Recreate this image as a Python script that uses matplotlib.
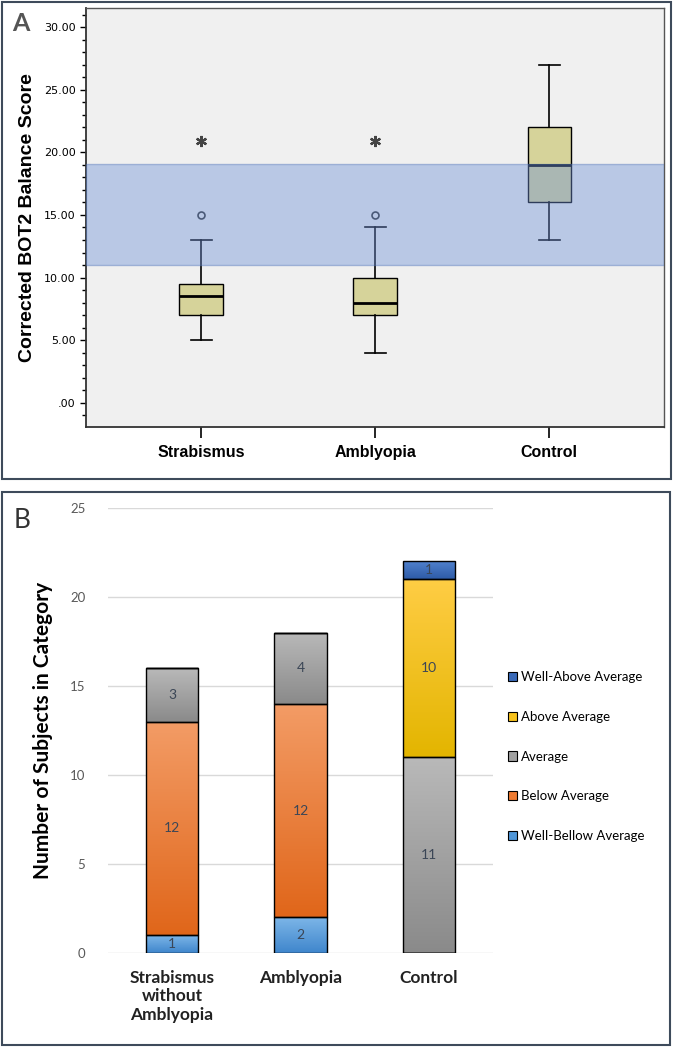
import numpy as np
import matplotlib
matplotlib.use("Agg")
import matplotlib.pyplot as plt
from matplotlib.patches import Rectangle
from matplotlib.colors import LinearSegmentedColormap

# ---- panel A data (box plot) ----
groups_a = ["Strabismus", "Amblyopia", "Control"]
q1 = [7.0, 7.0, 16.0]
median = [8.5, 8.0, 19.0]
q3 = [9.5, 10.0, 22.0]
whisk_lo = [5.0, 4.0, 13.0]
whisk_hi = [13.0, 14.0, 27.0]
outlier_grp = [1, 2]
outlier_val = [15.0, 15.0]
extreme_grp = [1, 2]
extreme_val = [20.9, 20.9]
band_lo, band_hi = 11.0, 19.1

# ---- panel B data (stacked bars) ----
groups_b = ["Strabismus\nwithout\nAmblyopia", "Amblyopia", "Control"]
categories = ["Well-Bellow Average", "Below Average", "Average", "Above Average", "Well-Above Average"]
well_below = [1, 2, 0]
below = [12, 12, 0]
average = [3, 4, 11]
above = [0, 0, 10]
well_above = [0, 0, 1]
series_b = [well_below, below, average, above, well_above]
grad_top = ["#7db6e8", "#f39c66", "#b9b9b9", "#ffcd45", "#5080cc"]
grad_bot = ["#3f86cc", "#e0661a", "#8a8a8a", "#e3b500", "#2e5ca8"]
solid = ["#4f96d8", "#ee7a30", "#a0a0a0", "#f7c21c", "#3a6ab8"]

fig = plt.figure(figsize=(6.73, 10.48), dpi=100)

# ================= Panel A =================
axA = fig.add_axes([0.128, 0.593, 0.859, 0.399])
axA.set_facecolor("#f0f0f0")
stats = []
for i in range(3):
    stats.append(dict(med=median[i], q1=q1[i], q3=q3[i], whislo=whisk_lo[i],
                      whishi=whisk_hi[i], fliers=[]))
axA.bxp(stats, positions=[1, 2, 3], widths=0.25, capwidths=0.12, patch_artist=True,
        showfliers=False,
        boxprops=dict(facecolor="#d6d39a", edgecolor="black", linewidth=1),
        medianprops=dict(color="black", linewidth=2),
        whiskerprops=dict(color="black", linewidth=1.2),
        capprops=dict(color="black", linewidth=1.2))
axA.axhspan(band_lo, band_hi, facecolor="#6e91d7", alpha=0.42, edgecolor="#4f74b8",
            linewidth=1, zorder=5)
axA.plot(outlier_grp, outlier_val, linestyle="none", marker="o", markersize=5,
         markerfacecolor="none", markeredgecolor="#4a5a78", markeredgewidth=1.2, zorder=6)
axA.plot(extreme_grp, extreme_val, linestyle="none", marker=(6, 2, 0), markersize=8,
         markeredgecolor="#444444", markeredgewidth=1.6, zorder=6)

axA.set_xlim(0.34, 3.66)
axA.set_ylim(-1.9, 31.5)
axA.set_yticks(np.arange(0, 31, 5))
axA.set_yticks(np.arange(-1, 32, 1), minor=True)
axA.set_yticklabels([".00", "5.00", "10.00", "15.00", "20.00", "25.00", "30.00"],
                    family=["Liberation Sans Narrow", "DejaVu Sans"], fontsize=8)
axA.set_xticks([1, 2, 3])
axA.set_xticklabels(groups_a, family="Liberation Sans", fontweight="bold", fontsize=11.5)
axA.tick_params(axis="x", length=8, width=1.2, pad=5)
axA.tick_params(axis="y", which="major", length=4, width=1)
axA.tick_params(axis="y", which="minor", length=3, width=1)
axA.set_ylabel("Corrected BOT2 Balance Score", family="Liberation Sans",
               fontweight="bold", fontsize=14, labelpad=6)
for s in ["left", "bottom"]:
    axA.spines[s].set_color("#333333")
    axA.spines[s].set_linewidth(1.3)
for s in ["right", "top"]:
    axA.spines[s].set_color("#555555")
    axA.spines[s].set_linewidth(1.0)
fig.text(0.018, 0.978, "A", fontsize=18, color="#555555", family="Lato", fontweight="bold",
         va="center")

# ================= Panel B =================
axB = fig.add_axes([0.160, 0.0906, 0.573, 0.4247])
x = np.arange(len(groups_b))
bottom = np.zeros(len(groups_b))
for k, vals in enumerate(series_b):
    vals = np.array(vals, dtype=float)
    bars = axB.bar(x, vals, width=0.41, bottom=bottom, facecolor="none",
                   edgecolor="black", linewidth=1, zorder=4)
    cmap = LinearSegmentedColormap.from_list("g%d" % k, [grad_bot[k], grad_top[k]])
    for b, v in zip(bars, vals):
        if v <= 0:
            continue
        x0, y0, w, h = b.get_x(), b.get_y(), b.get_width(), b.get_height()
        grad = np.linspace(0, 1, 256).reshape(-1, 1)
        im = axB.imshow(grad, extent=[x0, x0 + w, y0, y0 + h], origin="lower",
                        cmap=cmap, aspect="auto", zorder=3)
        im.set_clip_path(b)
        axB.text(x0 + w / 2, y0 + h / 2, "%d" % v, ha="center", va="center",
                 fontsize=10, color="#3b4656", family="Lato", zorder=5)
    bottom += vals

axB.set_xlim(-0.5, 2.5)
axB.set_ylim(0, 25)
axB.set_yticks(np.arange(0, 26, 5))
axB.yaxis.grid(True, color="#d9d9d9", linewidth=1)
axB.set_axisbelow(True)
for s in axB.spines.values():
    s.set_visible(False)
axB.tick_params(axis="both", length=0)
axB.tick_params(axis="y", labelsize=9.5, labelcolor="#595959", pad=16)
axB.set_xticks(x)
axB.set_xticklabels(groups_b, family="Lato", fontweight="bold", fontsize=12.5,
                    color="#222222", linespacing=1.2)
axB.tick_params(axis="x", pad=12)
axB.set_ylabel("Number of Subjects in Category", family="Lato", fontweight="bold",
               fontsize=15, labelpad=12)
for lbl in axB.get_yticklabels():
    lbl.set_family("Lato")

handles = [Rectangle((0, 0), 1, 1, facecolor=solid[k], edgecolor="black", linewidth=0.8)
           for k in range(len(categories))]
fig.legend(handles[::-1], categories[::-1], loc="center left",
           bbox_to_anchor=(0.737, 0.278), frameon=False, prop=dict(family="Lato", size=9.5),
           handlelength=0.7, handleheight=0.7, handletextpad=0.3, labelspacing=2.1)
fig.text(0.02, 0.503, "B", fontsize=19, color="#333333", family="Lato", va="center")

# panel frames
fig.add_artist(Rectangle((0.003, 0.543), 0.994, 0.455, transform=fig.transFigure,
                         fill=False, edgecolor="#3e4b5b", linewidth=1.5))
fig.add_artist(Rectangle((0.003, 0.003), 0.993, 0.528, transform=fig.transFigure,
                         fill=False, edgecolor="#3e4b5b", linewidth=1.5))

fig.savefig("out.png", dpi=100, facecolor="white")
